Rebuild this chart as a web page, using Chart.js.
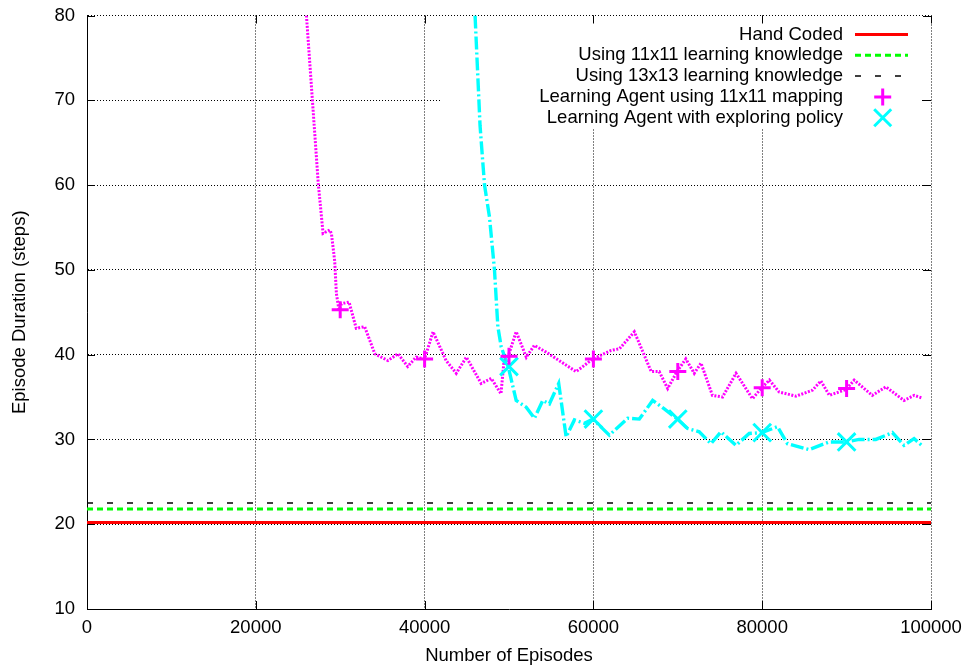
<!DOCTYPE html>
<html><head><meta charset="utf-8">
<script src="https://cdn.jsdelivr.net/npm/chart.js@4/dist/chart.umd.min.js"></script>
<style>html,body{margin:0;padding:0;background:#fff}#wrap{width:969px;height:668px}</style>
</head><body><div id="wrap"><canvas id="c" width="969" height="668"></canvas></div>
<script>
// ---- data ----
const xTickValues = [0, 20000, 40000, 60000, 80000, 100000];
const yTickValues = [10, 20, 30, 40, 50, 60, 70, 80];
const legendLabels = ['Hand Coded', 'Using 11x11 learning knowledge', 'Using 13x13 learning knowledge', 'Learning Agent using 11x11 mapping', 'Learning Agent with exploring policy'];

const baselineEpisodes = [0, 100000];
const handCoded = [20.2, 20.2];
const knowledge11 = [21.8, 21.8];
const knowledge13 = [22.5, 22.5];

const mappingEpisodes = [26000,27400,27970,28370,28760,28960,29350,29550,29850,30150,31050,31900,32900,34100,35650,36850,38000,39000,40000,41000,42550,43750,44950,46700,47900,49050,49450,49900,50850,52050,53000,54400,57950,59950,62100,63100,64850,66850,67800,68800,69900,70950,71950,72750,74100,75300,76900,78850,79950,80850,82000,84000,85950,86950,87950,89950,90900,93050,94650,96800,98000,98900];
const mappingValues   = [80.0,60.2,54.3,54.5,54.7,54.3,51.0,47.2,45.3,46.0,46.2,43.1,43.3,40.1,39.3,40.1,38.6,39.7,39.5,42.7,39.3,37.8,39.7,36.6,37.2,35.4,39.7,39.8,42.7,39.7,41.1,40.3,38.0,39.5,40.5,40.7,42.7,38.0,38.0,36.0,38.0,39.5,37.8,39.0,35.2,35.0,37.8,34.8,36.1,37.0,35.6,35.1,35.8,36.9,35.2,35.9,37.0,35.2,36.2,34.6,35.2,34.9];

const exploringEpisodes = [45980,46570,47100,47690,48280,48680,49080,49900,50850,52040,53020,54000,54790,55890,56770,57750,58940,59950,61890,64060,65440,67020,68400,69950,71160,72540,73930,75110,76890,78460,79950,81810,82990,85560,87930,89950,91480,93460,95420,96800,97990,98900];
const exploringValues   = [80.0,67.0,60.0,56.2,50.0,43.3,40.9,38.6,34.6,33.8,32.5,34.6,34.2,36.6,30.3,32.3,31.9,32.4,30.5,32.5,32.4,34.6,33.6,32.4,31.3,30.9,29.5,30.9,29.3,30.7,30.8,31.5,29.5,28.8,29.7,29.7,30.0,30.0,30.8,29.3,30.1,29.3];

const mappingMarkerEpisodes = [30000, 40000, 50000, 60000, 70000, 80000, 90000];
const mappingMarkerValues   = [45.3, 39.5, 39.8, 39.5, 38.0, 36.1, 36.0];
const exploringMarkerEpisodes = [50000, 60000, 70000, 80000, 90000];
const exploringMarkerValues   = [38.6, 32.4, 32.4, 30.8, 29.7];

// ---- helpers ----
const pts = (xs, ys) => xs.map((x, i) => ({x, y: ys[i]}));
const FONT = 'Liberation Sans, Arial, Helvetica, sans-serif';
const FS = 18.5;

const datasets = [
  {label: legendLabels[3], data: pts(mappingMarkerEpisodes, mappingMarkerValues), showLine: false,
   pointStyle: 'cross', pointRadius: 8.5, pointBorderWidth: 3, pointBorderColor: '#ff00ff', pointBackgroundColor: '#ff00ff',
   legendKind: 'cross', legendColor: '#ff00ff', legendRow: 3},
  {label: legendLabels[4], data: pts(exploringMarkerEpisodes, exploringMarkerValues), showLine: false,
   pointStyle: 'crossRot', pointRadius: 12.5, pointBorderWidth: 3, pointBorderColor: '#00ffff', pointBackgroundColor: '#00ffff',
   legendKind: 'crossRot', legendColor: '#00ffff', legendRow: 4},
  {label: legendLabels[0], data: pts(baselineEpisodes, handCoded), borderColor: '#ff0000', borderWidth: 3, pointRadius: 0,
   legendKind: 'line', legendColor: '#ff0000', legendWidth: 3, legendDash: [], legendRow: 0},
  {label: legendLabels[1], data: pts(baselineEpisodes, knowledge11), borderColor: '#00ff00', borderWidth: 3, borderDash: [6, 4], pointRadius: 0,
   legendKind: 'line', legendColor: '#00ff00', legendWidth: 3, legendDash: [6, 4], legendRow: 1},
  {label: legendLabels[2], data: pts(baselineEpisodes, knowledge13), borderColor: '#000000', borderWidth: 1.5, borderDash: [6, 14], pointRadius: 0,
   legendKind: 'line', legendColor: '#000000', legendWidth: 1.5, legendDash: [6, 14], legendRow: 2},
  {label: 'mapping line', data: pts(mappingEpisodes, mappingValues), borderColor: '#ff00ff', borderWidth: 3, borderDash: [2, 1.5], pointRadius: 0},
  {label: 'exploring line', data: pts(exploringEpisodes, exploringValues), borderColor: '#00ffff', borderWidth: 3.4, borderDash: [13, 3, 2, 3], pointRadius: 0}
];

// legend (gnuplot-style key, right aligned, opaque over the grid)
const gnuKey = {
  id: 'gnuKey',
  beforeDatasetsDraw(chart) {
    const ctx = chart.ctx;
    ctx.save();
    ctx.fillStyle = '#ffffff';
    ctx.fillRect(440, 17, 480, 111);
    ctx.font = FS + 'px ' + FONT;
    ctx.textAlign = 'right';
    ctx.textBaseline = 'middle';
    chart.data.datasets.forEach(ds => {
      if (ds.legendRow === undefined) return;
      const yy = 34.5 + ds.legendRow * 20.8;
      ctx.fillStyle = '#000';
      ctx.fillText(ds.label, 843, yy);
      ctx.strokeStyle = ds.legendColor;
      if (ds.legendKind === 'line') {
        ctx.lineWidth = ds.legendWidth;
        ctx.setLineDash(ds.legendDash);
        ctx.beginPath(); ctx.moveTo(855, yy); ctx.lineTo(908, yy); ctx.stroke();
        ctx.setLineDash([]);
      } else if (ds.legendKind === 'cross') {
        ctx.lineWidth = 3;
        ctx.beginPath();
        ctx.moveTo(874.2, yy); ctx.lineTo(891.2, yy);
        ctx.moveTo(882.7, yy - 8.5); ctx.lineTo(882.7, yy + 8.5);
        ctx.stroke();
      } else if (ds.legendKind === 'crossRot') {
        ctx.lineWidth = 3;
        const r = 8.5;
        ctx.beginPath();
        ctx.moveTo(882.7 - r, yy - r); ctx.lineTo(882.7 + r, yy + r);
        ctx.moveTo(882.7 - r, yy + r); ctx.lineTo(882.7 + r, yy - r);
        ctx.stroke();
      }
    });
    ctx.restore();
  }
};

// inward, mirrored tick marks
const gnuTicks = {
  id: 'gnuTicks',
  afterDraw(chart) {
    const {ctx, chartArea: a, scales: {x, y}} = chart;
    ctx.save();
    ctx.strokeStyle = '#000';
    ctx.lineWidth = 1;
    ctx.beginPath();
    x.ticks.forEach(t => {
      const px = Math.round(x.getPixelForValue(t.value)) + 0.5;
      ctx.moveTo(px, a.bottom); ctx.lineTo(px, a.bottom - 8);
      ctx.moveTo(px, a.top); ctx.lineTo(px, a.top + 8);
    });
    y.ticks.forEach(t => {
      const py = Math.round(y.getPixelForValue(t.value)) + 0.5;
      ctx.moveTo(a.left, py); ctx.lineTo(a.left + 8, py);
      ctx.moveTo(a.right, py); ctx.lineTo(a.right - 8, py);
    });
    ctx.stroke();
    ctx.restore();
  }
};

new Chart(document.getElementById('c'), {
  type: 'line',
  data: {datasets},
  plugins: [gnuKey, gnuTicks],
  options: {
    responsive: false,
    animation: false,
    devicePixelRatio: 1,
    layout: {padding: {top: 15, right: 38, left: 0, bottom: 0}},
    elements: {line: {tension: 0, fill: false}},
    plugins: {legend: {display: false}, tooltip: {enabled: false}},
    scales: {
      x: {
        type: 'linear', min: 0, max: 100000,
        afterBuildTicks: s => { s.ticks = xTickValues.map(v => ({value: v})); },
        afterFit: s => { s.height = 59; s.paddingLeft = 0; s.paddingRight = 0; },
        ticks: {color: '#000', padding: 8, maxRotation: 0, autoSkip: false, font: {family: FONT, size: FS}, callback: v => String(v)},
        grid: {color: '#000', lineWidth: 1, drawTicks: false},
        border: {display: true, color: '#000', width: 1, dash: [1, 2]},
        title: {display: true, text: 'Number of Episodes', color: '#000', font: {family: FONT, size: FS}, padding: {top: 0, bottom: 1}}
      },
      y: {
        type: 'linear', min: 10, max: 80,
        afterBuildTicks: s => { s.ticks = yTickValues.map(v => ({value: v})); },
        afterFit: s => { s.width = 87; s.paddingTop = 0; s.paddingBottom = 0; },
        ticks: {color: '#000', padding: 12, autoSkip: false, font: {family: FONT, size: FS}, callback: v => String(v)},
        grid: {color: '#000', lineWidth: 1, drawTicks: false},
        border: {display: true, color: '#000', width: 1, dash: [1, 2]},
        title: {display: true, text: 'Episode Duration (steps)', color: '#000', font: {family: FONT, size: FS}, padding: {top: 9, bottom: 0}}
      }
    }
  }
});
</script></body></html>
